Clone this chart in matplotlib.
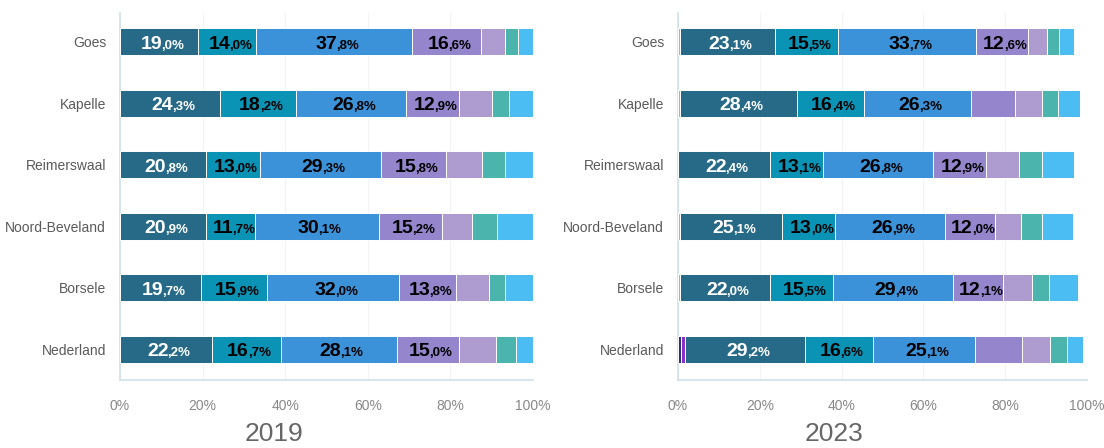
import numpy as np
import matplotlib.pyplot as plt

plt.rcParams['font.family'] = ['Liberation Sans', 'DejaVu Sans']

# gemeenten, van boven naar beneden
munis = ['Goes', 'Kapelle', 'Reimerswaal', 'Noord-Beveland', 'Borsele', 'Nederland']

colors = ['#2b2d7e', '#8b2fc9', '#c59be0', '#276a88', '#0a93b5', '#3b92d9',
          '#9585cc', '#ae9bd0', '#4bb5ad', '#4bbdf3']
txtcol = ['k', 'k', 'k', 'white', 'k', 'k', 'k', 'k', 'k', 'k']

# 2019 (percentages per segment)
navy_19 = [0, 0, 0, 0, 0, 0]
violet_19 = [0, 0, 0, 0, 0, 0]
lav_19 = [0, 0, 0, 0, 0, 0]
dteal_19 = [19.0, 24.3, 20.8, 20.9, 19.7, 22.2]
teal_19 = [14.0, 18.2, 13.0, 11.7, 15.9, 16.7]
blue_19 = [37.8, 26.8, 29.3, 30.1, 32.0, 28.1]
purple_19 = [16.6, 12.9, 15.8, 15.2, 13.8, 15.0]
lpurple_19 = [5.7, 7.9, 8.7, 7.3, 7.9, 9.0]
green_19 = [3.2, 4.1, 5.5, 6.2, 4.0, 4.9]
lblue_19 = [3.7, 5.8, 6.9, 8.6, 6.7, 4.1]

# 2023
navy_23 = [0, 0, 0, 0, 0, 0.7]
violet_23 = [0, 0, 0, 0, 0, 1.1]
lav_23 = [0.6, 0.6, 0, 0.4, 0.4, 0]
dteal_23 = [23.1, 28.4, 22.4, 25.1, 22.0, 29.2]
teal_23 = [15.5, 16.4, 13.1, 13.0, 15.5, 16.6]
blue_23 = [33.7, 26.3, 26.8, 26.9, 29.4, 25.1]
purple_23 = [12.6, 10.7, 12.9, 12.0, 12.1, 11.4]
lpurple_23 = [4.7, 6.5, 8.1, 6.5, 7.2, 6.8]
green_23 = [2.9, 4.0, 5.7, 5.2, 4.2, 4.1]
lblue_23 = [3.8, 5.3, 7.7, 7.5, 7.1, 3.9]

data19 = [navy_19, violet_19, lav_19, dteal_19, teal_19, blue_19,
          purple_19, lpurple_19, green_19, lblue_19]
data23 = [navy_23, violet_23, lav_23, dteal_23, teal_23, blue_23,
          purple_23, lpurple_23, green_23, lblue_23]

fig = plt.figure(figsize=(11.04, 4.48), dpi=100)
ax1 = fig.add_axes([120/1104, 1-380/448, 413/1104, 367/448])
ax2 = fig.add_axes([678/1104, 1-380/448, 409/1104, 367/448])

y = np.arange(len(munis))


def draw(ax, data, year, xt):
    left = np.zeros(len(munis))
    for k, vals in enumerate(data):
        vals = np.array(vals, dtype=float)
        ax.barh(y, vals, left=left, height=0.44, color=colors[k],
                edgecolor='white', linewidth=0.7, zorder=3)
        for i in range(len(munis)):
            v = vals[i]
            if v >= 11.5 and k >= 3:
                cx = left[i] + v/2
                s = f"{v:.1f}".replace('.', ',')
                whole, dec = s.split(',')
                ax.annotate(whole, (cx, y[i]), xytext=(2, -5), textcoords='offset points',
                            ha='right', va='baseline', fontsize=14, fontweight='bold',
                            color=txtcol[k], zorder=5)
                ax.annotate(',' + dec + '%', (cx, y[i]), xytext=(1.3, -5), textcoords='offset points',
                            ha='left', va='baseline', fontsize=9.5, fontweight='bold',
                            color=txtcol[k], zorder=5)
        left += vals
    ax.set_xlim(0, 100)
    ax.set_ylim(5.5, -0.47)
    ax.set_yticks(y)
    ax.set_yticklabels(munis, fontsize=10, color='#5a5a5a')
    ax.set_xticks([0, 20, 40, 60, 80, 100])
    ax.set_xticklabels(['0%', '20%', '40%', '60%', '80%', '100%'], fontsize=10, color='#888888')
    ax.tick_params(length=0, axis='y', pad=10)
    ax.tick_params(length=0, axis='x', pad=14)
    ax.grid(axis='x', color='#f3f3f3', linewidth=0.8, zorder=0)
    for sp in ['top', 'right']:
        ax.spines[sp].set_visible(False)
    for sp in ['left', 'bottom']:
        ax.spines[sp].set_color('#cfe0ea')
        ax.spines[sp].set_linewidth(1.2)
    fig.text(xt/1104, 1-434/448, year, ha='center', va='center', fontsize=19, color='#666666')


draw(ax1, data19, '2019', 274)
draw(ax2, data23, '2023', 834)

fig.savefig('out.png', dpi=100)
